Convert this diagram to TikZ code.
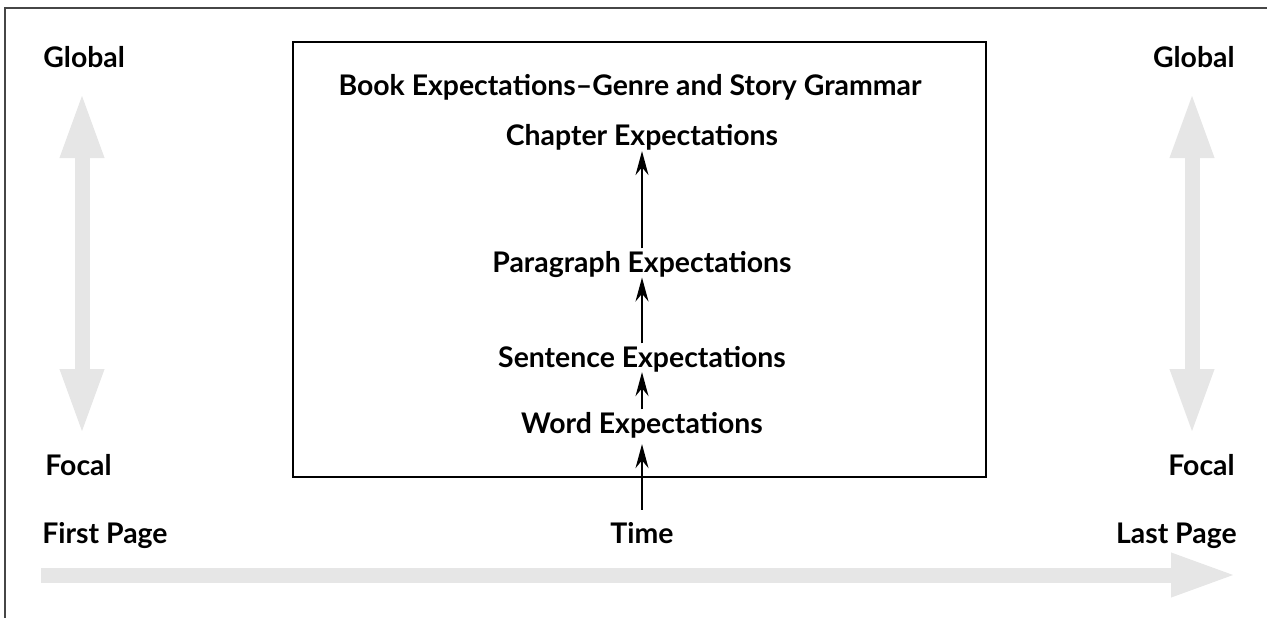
\documentclass[tikz,border=0pt]{standalone}
\usepackage{fontspec}
\setmainfont{Lato}
\usetikzlibrary{arrows.meta}
\definecolor{framegray}{RGB}{70,70,70}
\definecolor{pale}{RGB}{230,230,230}

\begin{document}
\begin{tikzpicture}[x=0.5bp, y=-0.5bp,
    every node/.style={font=\fontsize{14.25}{17}\selectfont\bfseries, inner sep=0pt},
    paleline/.style={pale, line width=7.5bp},
    paletip/.tip={Triangle[length=33bp, width=20bp]},
    up/.style={-{Stealth[length=12bp, width=6.5bp]}, line width=0.75bp}]
  \useasboundingbox (0,0) rectangle (1267,618);
  % --- outer frame (top and left only) ---
  \draw[framegray, line width=1bp] (5,618) -- (5,8) -- (1267,8);
  % --- inner box ---
  \draw[line width=1bp] (293,42) rectangle (986,477);
  % --- side labels ---
  \node[anchor=base west] (gl) at (43,68)   {Global};
  \node[anchor=base east] (gr) at (1235,68) {Global};
  \node[anchor=base west] (fl) at (45,475)  {Focal};
  \node[anchor=base east] (fr) at (1235,475) {Focal};
  \node[anchor=base west] (first) at (42,543) {First Page};
  \node[anchor=base east] (last) at (1237,543) {Last Page};
  \node[anchor=base] (time) at (642,543) {Time};
  % --- levels in the box ---
  \node[anchor=base] (book) at (630,96) {Book Expectations–Genre and Story Grammar};
  \node[anchor=base] (chap) at (642,146) {Chapter Expectations};
  \node[anchor=base] (para) at (642,272) {Paragraph Expectations};
  \node[anchor=base] (sent) at (642,367) {Sentence Expectations};
  \node[anchor=base] (word) at (642,433) {Word Expectations};
  % --- black arrows, word up to chapter ---
  \draw[up, shorten <=6bp, shorten >=3bp] (time) -- (word);
  \draw[up, shorten <=1bp] (word) -- (sent);
  \draw[up, shorten <=1bp] (sent) -- (para);
  \draw[up, shorten <=1bp] (para) -- (chap);
  % --- pale scale arrows ---
  \coordinate (lt) at (82,92);   \coordinate (lb) at (82,435);
  \coordinate (rt) at (1192,92); \coordinate (rb) at (1192,435);
  \coordinate (ts) at (41,575);  \coordinate (te) at (1237,575);
  \draw[paleline, paletip-paletip] (lt) -- (lb);
  \draw[paleline, paletip-paletip] (rt) -- (rb);
  \draw[paleline, -paletip] (ts) -- (te);
\end{tikzpicture}
\end{document}
